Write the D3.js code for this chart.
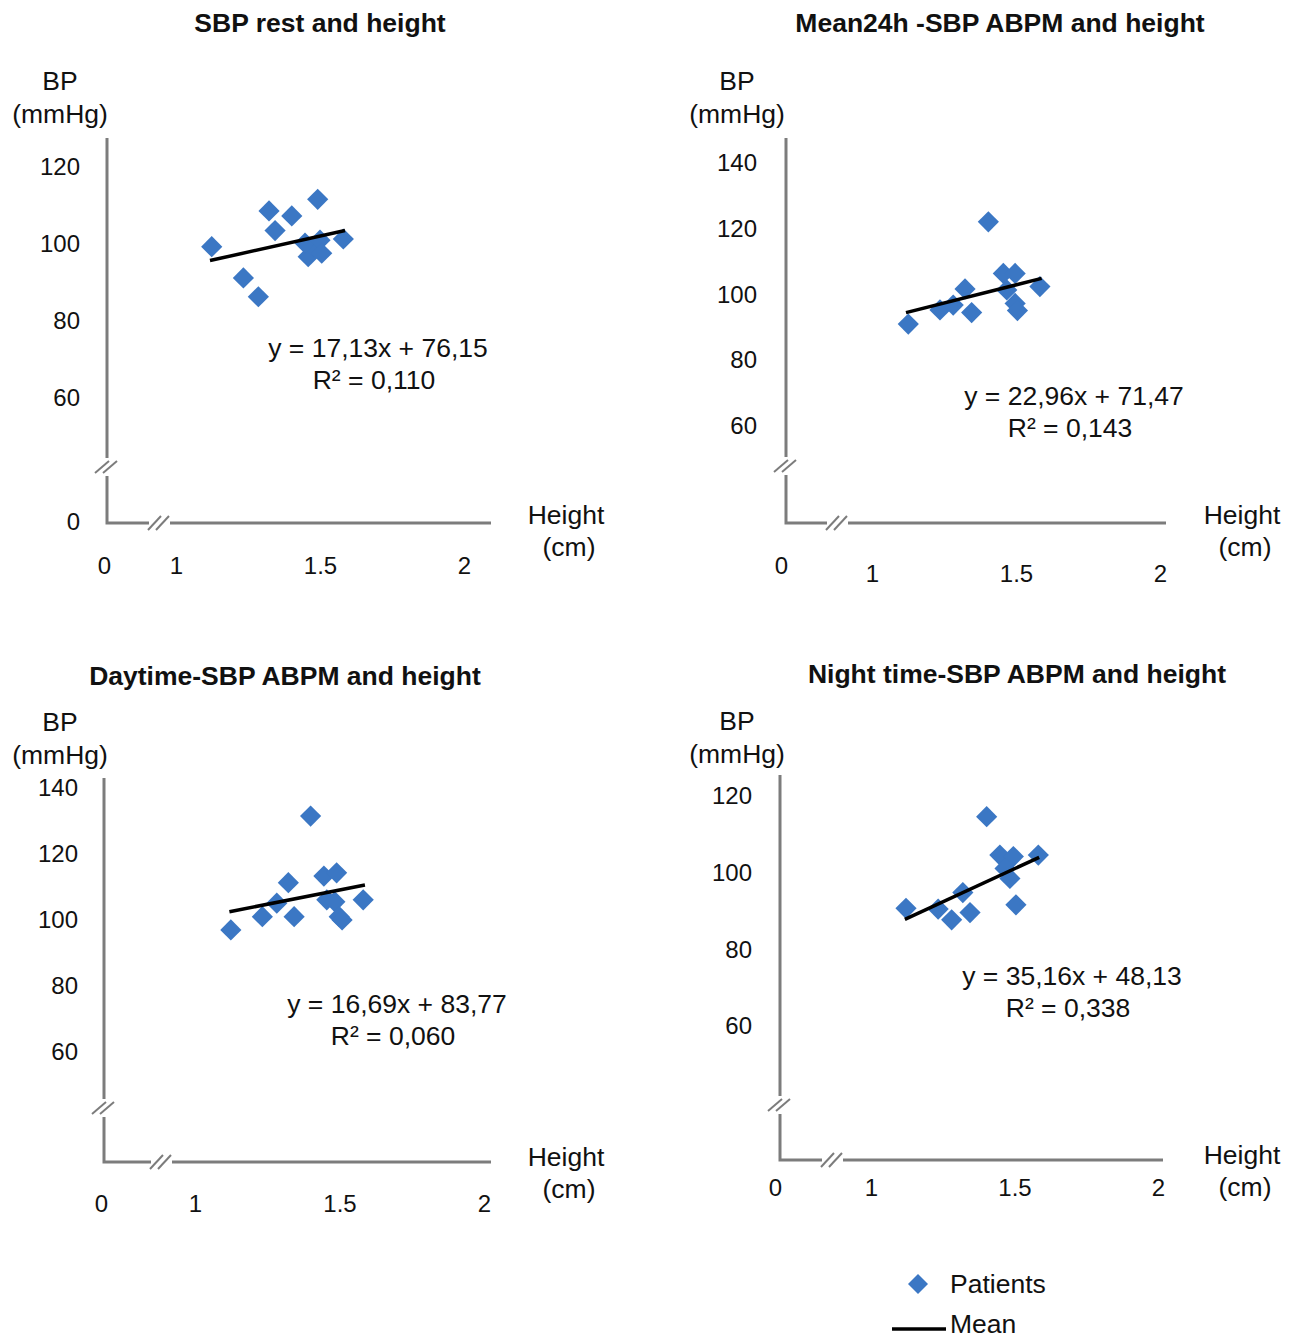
<!DOCTYPE html>
<html>
<head>
<meta charset="utf-8">
<script src="https://cdn.jsdelivr.net/npm/d3@7"></script>
<style>
  body { margin: 0; background: #fff; }
  svg text { font-family: "Liberation Sans", Arial, sans-serif; fill: #111; }
  .title { font-weight: bold; font-size: 26.5px; }
  .lbl { font-size: 24px; }
  .big { font-size: 26.5px; }
</style>
</head>
<body>
<div id="chart"></div>
<script>
// heights (m) and systolic BP (mmHg)
const restHeight = [1.124, 1.234, 1.286, 1.323, 1.344, 1.402, 1.492, 1.459, 1.477, 1.448, 1.5, 1.506, 1.581];
const restSbp    = [99.3, 91.2, 86.3, 108.6, 103.5, 107.3, 111.6, 96.7, 99.3, 100.2, 101, 97.6, 101.3];
const restTrendX = [1.118, 1.587];
const restTrendY = [95.7, 103.5];

const meanHeight = [1.126, 1.236, 1.282, 1.323, 1.346, 1.404, 1.456, 1.497, 1.468, 1.497, 1.505, 1.583];
const meanSbp    = [91.0, 95.3, 96.8, 101.7, 94.5, 122.1, 106.4, 106.4, 101.4, 97.3, 95.1, 102.4];
const meanTrendX = [1.118, 1.589];
const meanTrendY = [94.5, 104.9];

const dayHeight = [1.124, 1.233, 1.283, 1.323, 1.343, 1.400, 1.446, 1.490, 1.456, 1.484, 1.499, 1.509, 1.582];
const daySbp    = [97.0, 101.0, 105.1, 111.3, 101.0, 131.5, 113.3, 114.3, 106.1, 105.5, 101.0, 100.0, 106.1];
const dayTrendX = [1.119, 1.588];
const dayTrendY = [102.5, 110.6];

const nightHeight = [1.122, 1.234, 1.281, 1.320, 1.345, 1.403, 1.449, 1.496, 1.467, 1.484, 1.505, 1.583];
const nightSbp    = [90.7, 90.5, 87.7, 94.8, 89.6, 114.6, 104.6, 104.2, 101.1, 98.5, 91.6, 104.6];
const nightTrendX = [1.118, 1.586];
const nightTrendY = [87.8, 104.0];

const titles = ["SBP rest and height", "Mean24h -SBP ABPM and height",
                "Daytime-SBP ABPM and height", "Night time-SBP ABPM and height"];
const equations = ["y = 17,13x + 76,15", "y = 22,96x + 71,47", "y = 16,69x + 83,77", "y = 35,16x + 48,13"];
const rSquared = ["R² = 0,110", "R² = 0,143", "R² = 0,060", "R² = 0,338"];
const xTicks = [0, 1, 1.5, 2];
const yTicksRest = [0, 60, 80, 100, 120];
const yTicksAbpm = [60, 80, 100, 120, 140];
const yTicksNight = [60, 80, 100, 120];

const blue = "#3b77c4";
const axisGrey = "#7c7c7c";

const svg = d3.select("#chart").append("svg")
  .attr("width", 1296)
  .attr("height", 1343);

// layout for each panel (pixels)
const panels = [
  { x: restHeight, y: restSbp, tx: restTrendX, ty: restTrendY, yTicks: yTicksRest,
    xDom: [0, 1, 2], xRange: [104, 176, 464], yDom: [0, 60, 120], yRange: [522, 398, 167],
    ax: 107, ay: 523, top: 138, xEnd: 491, yBreak: 467, xBreak: 158,
    xLabelY: 566, zeroLabelY: 566, yPad: 27,
    title: [320, 23], bp: [60, 81], height: [566, 515], eq: [378, 348] },
  { x: meanHeight, y: meanSbp, tx: meanTrendX, ty: meanTrendY, yTicks: yTicksAbpm,
    xDom: [0, 1, 2], xRange: [781, 872, 1160], yDom: [60, 140], yRange: [426, 163],
    ax: 786, ay: 523, top: 138, xEnd: 1166, yBreak: 466, xBreak: 836,
    xLabelY: 574, zeroLabelY: 566, yPad: 29,
    title: [1000, 23], bp: [737, 81], height: [1242, 515], eq: [1074, 396] },
  { x: dayHeight, y: daySbp, tx: dayTrendX, ty: dayTrendY, yTicks: yTicksAbpm,
    xDom: [0, 1, 2], xRange: [101, 195, 484], yDom: [60, 140], yRange: [1052, 788],
    ax: 104, ay: 1162, top: 778, xEnd: 491, yBreak: 1108, xBreak: 160,
    xLabelY: 1204, zeroLabelY: 1204, yPad: 26,
    title: [285, 676], bp: [60, 722], height: [566, 1157], eq: [397, 1004] },
  { x: nightHeight, y: nightSbp, tx: nightTrendX, ty: nightTrendY, yTicks: yTicksNight,
    xDom: [0, 1, 2], xRange: [775, 871, 1158], yDom: [60, 120], yRange: [1026, 796],
    ax: 780, ay: 1160, top: 775, xEnd: 1163, yBreak: 1105, xBreak: 831,
    xLabelY: 1188, zeroLabelY: 1188, yPad: 28,
    title: [1017, 674], bp: [737, 721], height: [1242, 1155], eq: [1072, 976] }
];

const diamond = d3.symbol().type(d3.symbolSquare).size(225);

panels.forEach(function(p, i) {
  const g = svg.append("g");
  const xScale = d3.scaleLinear().domain(p.xDom).range(p.xRange);
  const yScale = d3.scaleLinear().domain(p.yDom).range(p.yRange);

  // title and axis titles
  g.append("text").attr("class", "title")
    .attr("x", p.title[0]).attr("y", p.title[1]).attr("dy", "0.35em")
    .attr("text-anchor", "middle").text(titles[i]);
  g.append("text").attr("class", "big").attr("text-anchor", "middle")
    .attr("x", p.bp[0]).attr("y", p.bp[1]).attr("dy", "0.35em").text("BP");
  g.append("text").attr("class", "big").attr("text-anchor", "middle")
    .attr("x", p.bp[0]).attr("y", p.bp[1] + 33).attr("dy", "0.35em").text("(mmHg)");
  g.append("text").attr("class", "big").attr("text-anchor", "middle")
    .attr("x", p.height[0]).attr("y", p.height[1]).attr("dy", "0.35em").text("Height");
  g.append("text").attr("class", "big").attr("text-anchor", "middle")
    .attr("x", p.height[0] + 3).attr("y", p.height[1] + 32).attr("dy", "0.35em").text("(cm)");

  // broken axes
  const axisG = g.append("g").attr("stroke", axisGrey).attr("fill", "none");
  axisG.append("path").attr("stroke-width", 3)
    .attr("d", "M" + p.ax + "," + p.top + "V" + (p.yBreak - 9));
  axisG.append("path").attr("stroke-width", 3)
    .attr("d", "M" + p.ax + "," + (p.yBreak + 9) + "V" + p.ay + "H" + (p.xBreak - 9));
  axisG.append("path").attr("stroke-width", 3)
    .attr("d", "M" + (p.xBreak + 12) + "," + p.ay + "H" + p.xEnd);
  [-4, 4].forEach(function(o) {
    axisG.append("line").attr("stroke-width", 2)
      .attr("x1", p.ax + o - 8).attr("y1", p.yBreak + 6)
      .attr("x2", p.ax + o + 6).attr("y2", p.yBreak - 6);
    axisG.append("line").attr("stroke-width", 2)
      .attr("x1", p.xBreak + o - 6).attr("y1", p.ay + 7)
      .attr("x2", p.xBreak + o + 7).attr("y2", p.ay - 7);
  });

  // tick labels
  const yAxis = g.append("g")
    .attr("transform", "translate(" + p.ax + ",0)")
    .call(d3.axisLeft(yScale).tickValues(p.yTicks).tickSize(0).tickPadding(p.yPad).tickFormat(d3.format("d")));
  yAxis.select(".domain").remove();
  yAxis.selectAll("text").attr("class", "lbl").attr("font-size", null).attr("font-family", null);

  const xAxis = g.append("g")
    .attr("transform", "translate(0," + p.xLabelY + ")")
    .call(d3.axisBottom(xScale).tickValues(xTicks).tickSize(0).tickFormat(d3.format("")));
  xAxis.select(".domain").remove();
  xAxis.selectAll("text").attr("class", "lbl").attr("font-size", null).attr("font-family", null)
    .attr("y", function(d) { return d === 0 ? p.zeroLabelY - p.xLabelY : 0; })
    .attr("dy", "0.35em");

  // patients
  g.selectAll(".pt").data(p.x).enter().append("path")
    .attr("class", "pt")
    .attr("d", diamond)
    .attr("fill", blue)
    .attr("transform", function(d, j) {
      return "translate(" + xScale(d) + "," + yScale(p.y[j]) + ") rotate(45)";
    });

  // mean line
  const line = d3.line()
    .x(function(d) { return xScale(d[0]); })
    .y(function(d) { return yScale(d[1]); });
  g.append("path")
    .attr("d", line(d3.zip(p.tx, p.ty)))
    .attr("stroke", "#000").attr("stroke-width", 3.5).attr("fill", "none");

  g.append("text").attr("class", "big").attr("text-anchor", "middle")
    .attr("x", p.eq[0]).attr("y", p.eq[1]).attr("dy", "0.35em").text(equations[i]);
  g.append("text").attr("class", "big").attr("text-anchor", "middle")
    .attr("x", p.eq[0] - 4).attr("y", p.eq[1] + 32).attr("dy", "0.35em").text(rSquared[i]);
});

// legend
const legend = svg.append("g");
legend.append("path").attr("d", d3.symbol().type(d3.symbolSquare).size(200))
  .attr("fill", blue).attr("transform", "translate(918,1284) rotate(45)");
legend.append("text").attr("class", "big").attr("x", 950).attr("y", 1284).attr("dy", "0.35em").text("Patients");
legend.append("line").attr("x1", 892).attr("x2", 946).attr("y1", 1329).attr("y2", 1329)
  .attr("stroke", "#000").attr("stroke-width", 3.5);
legend.append("text").attr("class", "big").attr("x", 950).attr("y", 1324).attr("dy", "0.35em").text("Mean");
</script>
</body>
</html>
